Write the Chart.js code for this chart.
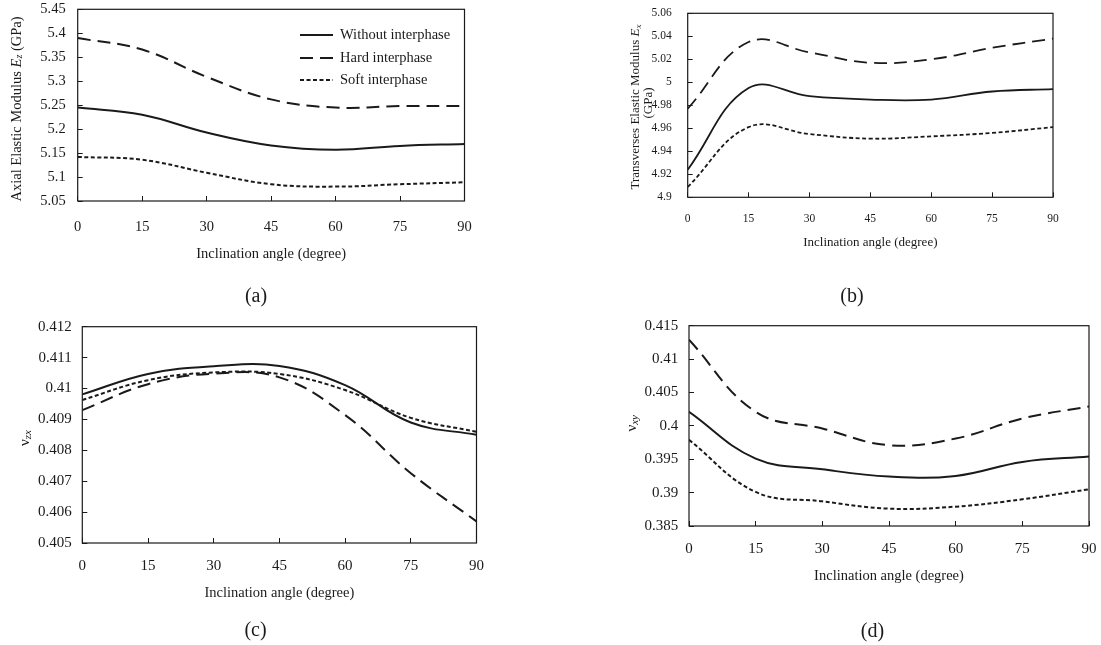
<!DOCTYPE html>
<html>
<head>
<meta charset="utf-8">
<script src="https://cdn.jsdelivr.net/npm/chart.js@4.4.0/dist/chart.umd.min.js"></script>
<style>
  html, body { margin: 0; padding: 0; background: #fff; }
  #page { position: relative; width: 1101px; height: 645px; overflow: hidden; }
  .panel { position: absolute; }
</style>
</head>
<body>
<div id="page">
  <div class="panel" style="left:0;top:0;width:550px;height:322px"><canvas id="chartA"></canvas></div>
  <div class="panel" style="left:550px;top:0;width:551px;height:322px"><canvas id="chartB"></canvas></div>
  <div class="panel" style="left:0;top:300px;width:550px;height:345px"><canvas id="chartC"></canvas></div>
  <div class="panel" style="left:550px;top:300px;width:551px;height:345px"><canvas id="chartD"></canvas></div>
</div>
<script>
// data
const angles = [0, 15, 30, 45, 60, 75, 90];
const seriesNames = ['Without interphase', 'Hard interphase', 'Soft interphase'];

// (a) axial modulus Ez (GPa)
const ezWithout = [5.245, 5.230, 5.193, 5.166, 5.157, 5.165, 5.169];
const ezHard    = [5.390, 5.366, 5.309, 5.262, 5.245, 5.248, 5.248];
const ezSoft    = [5.142, 5.136, 5.109, 5.085, 5.080, 5.085, 5.089];

// (b) transverse modulus Ex (GPa)
const exWithout = [4.924, 4.995, 4.988, 4.985, 4.985, 4.992, 4.994];
const exHard    = [4.977, 5.035, 5.026, 5.017, 5.020, 5.030, 5.038];
const exSoft    = [4.909, 4.961, 4.955, 4.951, 4.953, 4.956, 4.961];

// (c) poisson ratio v_zx
const nzxWithout = [0.40981, 0.41047, 0.41072, 0.41073, 0.41011, 0.40890, 0.40850];
const nzxHard    = [0.40930, 0.41014, 0.41048, 0.41036, 0.40914, 0.40726, 0.40570];
const nzxSoft    = [0.40963, 0.41027, 0.41052, 0.41047, 0.40995, 0.40905, 0.40860];

// (d) poisson ratio v_xy
const nxyWithout = [0.4021, 0.3951, 0.3935, 0.3924, 0.3925, 0.3946, 0.3954];
const nxyHard    = [0.4129, 0.4021, 0.3996, 0.3971, 0.3981, 0.4011, 0.4029];
const nxySoft    = [0.3979, 0.3901, 0.3887, 0.3876, 0.3879, 0.3890, 0.3905];

// tick labels
const angleTicks = [0, 15, 30, 45, 60, 75, 90];
const ticksA = [5.05, 5.1, 5.15, 5.2, 5.25, 5.3, 5.35, 5.4, 5.45];
const ticksB = [4.9, 4.92, 4.94, 4.96, 4.98, 5, 5.02, 5.04, 5.06];
const ticksC = [0.405, 0.406, 0.407, 0.408, 0.409, 0.41, 0.411, 0.412];
const ticksD = [0.385, 0.39, 0.395, 0.4, 0.405, 0.41, 0.415];

const SERIF = '"Liberation Serif", "Times New Roman", serif';
const INK = '#1a1a1a';
const dashes = [[], [13, 7], [4, 2.5]];

function lineSets(values, width) {
  return seriesNames.map((name, i) => ({
    label: name,
    data: angles.map((a, j) => ({ x: a, y: values[i][j] })),
    borderColor: INK,
    borderWidth: width,
    borderDash: dashes[i],
    pointRadius: 0,
    tension: 0.4,
    fill: false
  }));
}

function fontOf(p) {
  return (p.italic ? 'italic ' : '') + p.size + 'px ' + SERIF;
}

// utility: rich text (italic / subscript), optionally rotated
function drawRich(ctx, item) {
  ctx.save();
  ctx.translate(item.x, item.y);
  if (item.rotate) ctx.rotate(-Math.PI / 2);
  ctx.textBaseline = 'middle';
  ctx.fillStyle = INK;
  let total = 0;
  const parts = item.parts.map(p => {
    ctx.font = fontOf(p);
    const w = ctx.measureText(p.text).width;
    total += w;
    return Object.assign({ w }, p);
  });
  let x = -total / 2;
  parts.forEach(p => {
    ctx.font = fontOf(p);
    ctx.fillText(p.text, x, p.dy || 0);
    x += p.w;
  });
  ctx.restore();
}

const frame = {
  id: 'frame',
  afterDatasetsDraw(chart) {
    const { ctx, chartArea: a } = chart;
    ctx.save();
    ctx.strokeStyle = INK;
    ctx.lineWidth = 1.2;
    ctx.strokeRect(a.left, a.top, a.right - a.left, a.bottom - a.top);
    ctx.restore();
  }
};

function notes(items) {
  return {
    id: 'notes',
    afterDraw(chart) {
      items.forEach(it => drawRich(chart.ctx, it));
    }
  };
}

// legend drawn inside panel (a)
function legendIn(x0, x1, tx, rows, size) {
  return {
    id: 'legendIn',
    afterDraw(chart) {
      const ctx = chart.ctx;
      chart.data.datasets.forEach((ds, i) => {
        ctx.save();
        ctx.strokeStyle = INK;
        ctx.lineWidth = 2;
        ctx.setLineDash(ds.borderDash || []);
        ctx.beginPath();
        ctx.moveTo(x0, rows[i]);
        ctx.lineTo(x1, rows[i]);
        ctx.stroke();
        ctx.fillStyle = INK;
        ctx.font = size + 'px ' + SERIF;
        ctx.textBaseline = 'middle';
        ctx.fillText(ds.label, tx, rows[i]);
        ctx.restore();
      });
    }
  };
}

function makePanel(id, p) {
  return new Chart(document.getElementById(id).getContext('2d'), {
    type: 'line',
    data: { datasets: lineSets(p.values, p.lineWidth) },
    options: {
      responsive: true,
      maintainAspectRatio: false,
      animation: false,
      layout: { padding: p.pad },
      plugins: { legend: { display: false }, tooltip: { enabled: false } },
      scales: {
        x: {
          type: 'linear', min: 0, max: 90,
          afterBuildTicks: s => { s.ticks = angleTicks.map(v => ({ value: v })); },
          afterFit: s => { s.height = p.xHeight; s.paddingLeft = 0; s.paddingRight = 0; },
          grid: { drawOnChartArea: false, tickLength: -5, color: INK, lineWidth: 1 },
          border: { display: false },
          ticks: { padding: p.xTickPad, color: INK, autoSkip: false, maxRotation: 0,
                   font: { family: SERIF, size: p.tickSize } },
          title: { display: true, text: 'Inclination angle (degree)', color: INK,
                   font: { family: SERIF, size: p.titleSize },
                   padding: { top: 0, bottom: p.titlePad } }
        },
        y: {
          type: 'linear', min: p.ticks[0], max: p.ticks[p.ticks.length - 1],
          afterBuildTicks: s => { s.ticks = p.ticks.map(v => ({ value: v })); },
          afterFit: s => { s.width = p.yWidth; s.paddingTop = 0; s.paddingBottom = 0; },
          grid: { drawOnChartArea: false, tickLength: -5, color: INK, lineWidth: 1 },
          border: { display: false },
          ticks: { padding: p.yTickPad, color: INK, autoSkip: false,
                   font: { family: SERIF, size: p.tickSize },
                   callback: v => String(+v.toFixed(4)) }
        }
      }
    },
    plugins: [frame, notes(p.notes)].concat(p.extra || [])
  });
}

window.addEventListener('DOMContentLoaded', () => {
  // graph (a): axial modulus
  makePanel('chartA', {
    values: [ezWithout, ezHard, ezSoft], ticks: ticksA, lineWidth: 2,
    pad: { left: 0, top: 9.3, right: 85.5, bottom: 0 },
    yWidth: 77.7, xHeight: 121, tickSize: 14.5, titleSize: 14.5,
    yTickPad: 17, xTickPad: 22, titlePad: 59.3,
    notes: [
      { x: 16.7, y: 109, rotate: true, parts: [
        { text: 'Axial Elastic Modulus ', size: 14.5 },
        { text: 'E', size: 14.5, italic: true },
        { text: 'z', size: 10, italic: true, dy: 3 },
        { text: ' (GPa)', size: 14.5 }] },
      { x: 256, y: 297, parts: [{ text: '(a)', size: 20 }] }
    ],
    extra: [legendIn(300, 333, 340, [35, 58, 80], 14.5)]
  });

  // graph (b): transverse modulus
  makePanel('chartB', {
    values: [exWithout, exHard, exSoft], ticks: ticksB, lineWidth: 1.8,
    pad: { left: 0, top: 13.3, right: 48, bottom: 0 },
    yWidth: 137.7, xHeight: 124.7, tickSize: 11.5, titleSize: 13,
    yTickPad: 21, xTickPad: 19.5, titlePad: 71.2,
    notes: [
      { x: 85.7, y: 107, rotate: true, parts: [
        { text: 'Transverses Elastic Modulus ', size: 13 },
        { text: 'E', size: 13, italic: true },
        { text: 'x', size: 9, italic: true, dy: 3 }] },
      { x: 99, y: 103, rotate: true, parts: [{ text: '(GPa)', size: 13 }] },
      { x: 302, y: 297, parts: [{ text: '(b)', size: 20 }] }
    ]
  });

  // graph (c): v_zx
  makePanel('chartC', {
    values: [nzxWithout, nzxHard, nzxSoft], ticks: ticksC, lineWidth: 2,
    pad: { left: 0, top: 26.7, right: 73.5, bottom: 0 },
    yWidth: 82.3, xHeight: 102, tickSize: 15, titleSize: 14.5,
    yTickPad: 15.6, xTickPad: 18.7, titlePad: 43.6,
    notes: [
      { x: 25, y: 138, rotate: true, parts: [
        { text: '\u03bd', size: 15 },
        { text: 'zx', size: 11, italic: true, dy: 3 }] },
      { x: 255.5, y: 331, parts: [{ text: '(c)', size: 20 }] }
    ]
  });

  // graph (d): v_xy
  makePanel('chartD', {
    values: [nxyWithout, nxyHard, nxySoft], ticks: ticksD, lineWidth: 2,
    pad: { left: 0, top: 25.7, right: 12, bottom: 0 },
    yWidth: 139, xHeight: 119, tickSize: 15, titleSize: 14.5,
    yTickPad: 15.7, xTickPad: 19.3, titlePad: 60.3,
    notes: [
      { x: 81.7, y: 123.3, rotate: true, parts: [
        { text: '\u03bd', size: 15 },
        { text: 'xy', size: 11, italic: true, dy: 3 }] },
      { x: 322.5, y: 331.7, parts: [{ text: '(d)', size: 20 }] }
    ]
  });
});
</script>
</body>
</html>
